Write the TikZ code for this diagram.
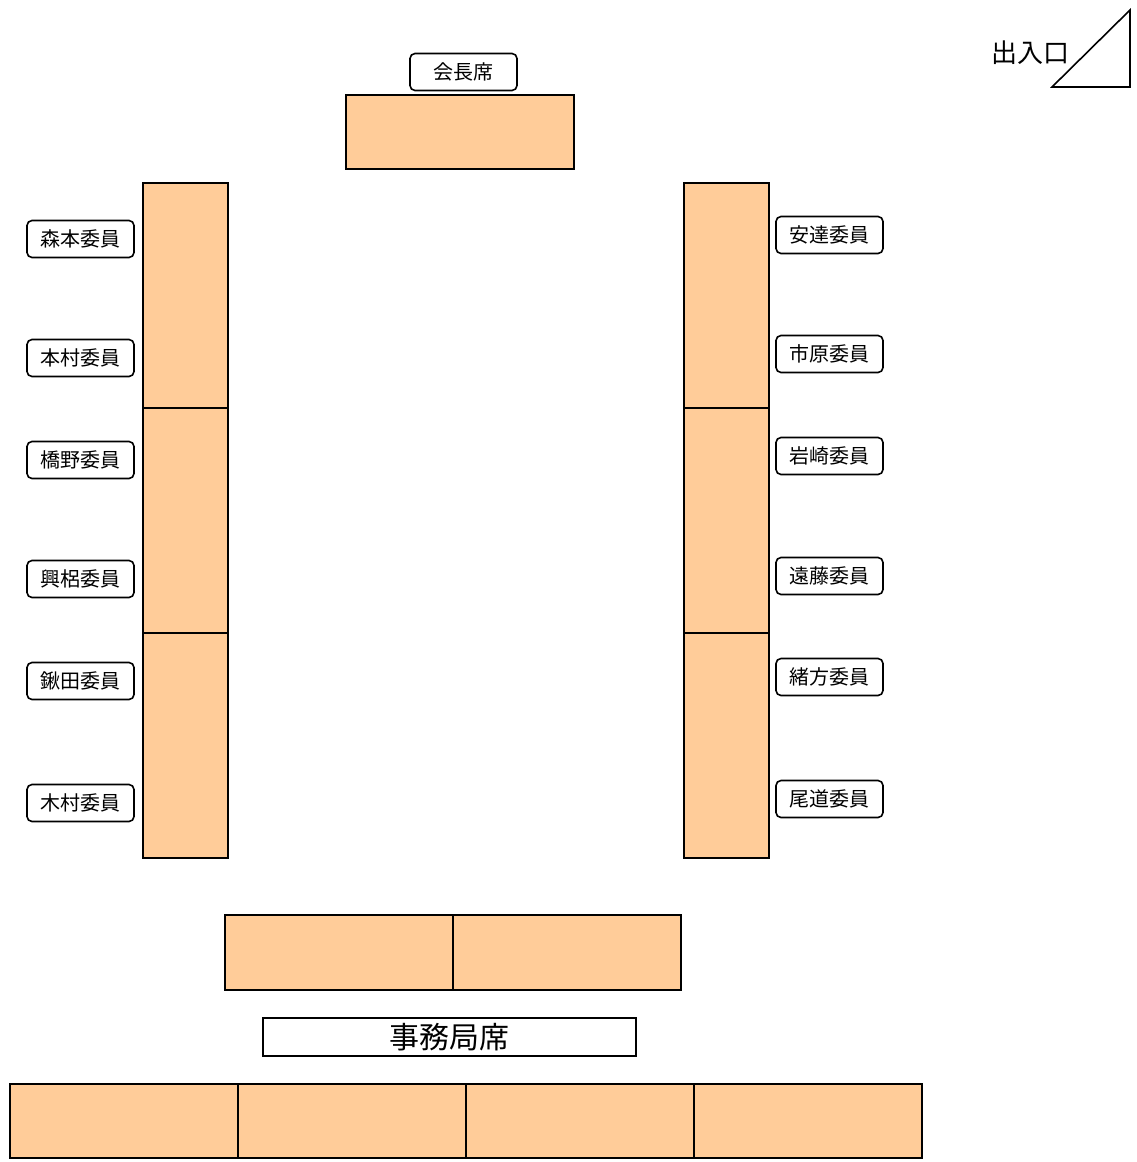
\documentclass[tikz,border=0pt]{standalone}
\usepackage{fontspec}
\setmainfont{Noto Sans CJK JP}
\usetikzlibrary{positioning}
\definecolor{deskfill}{HTML}{FFCC99}
\tikzstyle{every node}=[font=\fontsize{20}{24}\selectfont]
\tikzstyle{desk}=[draw,fill=deskfill,line width=1.6pt,outer sep=0pt,inner sep=0pt]
\tikzstyle{tall}=[desk,minimum width=85pt,minimum height=225pt]
\tikzstyle{wide}=[desk,minimum width=228pt,minimum height=75pt]
\tikzstyle{seat}=[draw,rounded corners=5pt,line width=1.6pt,minimum width=107pt,minimum height=37pt,inner sep=0pt]

\begin{document}
\begin{tikzpicture}[x=1pt,y=-1pt]
  \useasboundingbox (0,0) rectangle (1136,1162);
  % chairman
  \node[wide,minimum height=74pt] (chair) at (460,132) {};
  \node[seat] (chairlbl) at (463.5,72) {会長席};

  % side columns
  \node[tall] (l1) at (185.5,295.5) {};
  \node[tall] (l2) [below=0pt of l1] {};
  \node[tall] (l3) [below=0pt of l2] {};
  \node[tall] (r1) at (726.5,295.5) {};
  \node[tall] (r2) [below=0pt of r1] {};
  \node[tall] (r3) [below=0pt of r2] {};

  \foreach \who/\y [count=\i] in {森本/239,本村/358,橋野/460,興梠/579,鍬田/681,木村/803}
    \node[seat] (lseat\i) at (80.5,\y) {\who 委員};
  \foreach \who/\y [count=\i] in {安達/235,市原/354,岩崎/456,遠藤/576,緒方/677,尾道/799}
    \node[seat] (rseat\i) at (829.5,\y) {\who 委員};

  % secretariat
  \node[wide] (m1) at (339,952.5) {};
  \node[wide] (m2) [right=0pt of m1] {};
  \node[draw,line width=1.6pt,minimum width=373pt,minimum height=38pt,inner sep=0pt,
        font=\fontsize{30}{36}\selectfont] (office) at (449.5,1037) {事務局席};
  \node[wide,minimum height=74pt] (b1) at (124,1121) {};
  \node[wide,minimum height=74pt] (b2) [right=0pt of b1] {};
  \node[wide,minimum height=74pt] (b3) [right=0pt of b2] {};
  \node[wide,minimum height=74pt] (b4) [right=0pt of b3] {};

  % entrance
  \draw[line width=1.6pt] (1052,87) -- (1130,87) -- (1130,10) -- cycle;
  \node[font=\fontsize{26}{30}\selectfont] (door) at (1030,53) {出入口};
\end{tikzpicture}
\end{document}
